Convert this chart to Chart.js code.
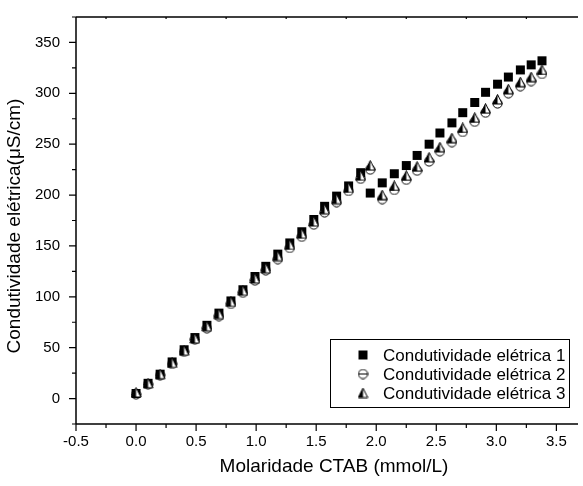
<!DOCTYPE html>
<html>
<head>
<meta charset="utf-8">
<script src="https://cdn.jsdelivr.net/npm/chart.js@4.4.0/dist/chart.umd.min.js"></script>
<style>
  html, body { margin: 0; padding: 0; background: #fff; }
  #chart { display: block; }
</style>
</head>
<body>
<canvas id="chart" width="583" height="486"></canvas>
<script>
// CTAB molarity (mmol/L)
var molarity = [0.00, 0.10, 0.20, 0.30, 0.40, 0.49, 0.59, 0.69, 0.79, 0.89,
                0.99, 1.08, 1.18, 1.28, 1.38, 1.48, 1.57, 1.67, 1.77, 1.87,
                1.95, 2.05, 2.15, 2.25, 2.34, 2.44, 2.53, 2.63, 2.72, 2.82,
                2.91, 3.01, 3.10, 3.20, 3.29, 3.38];

var cond1 = [5, 15, 24, 36, 48, 60, 72, 84, 96, 107,
             120, 130, 142, 153, 164, 176, 189, 199, 209, 222,
             202, 212, 221, 229, 239, 250, 261, 271, 281, 291,
             301, 309, 316, 323, 328, 332];
var cond2 = [4, 14, 23, 34, 46, 58, 69, 81, 93, 104,
             116, 126, 137, 148, 159, 171, 183, 193, 204, 216,
             225, 196, 205, 215, 224, 233, 243, 252, 262, 272,
             281, 290, 300, 307, 312, 319];
var cond3 = [6, 15, 24, 35, 47, 59, 71, 83, 95, 106,
             118, 128, 140, 151, 162, 174, 186, 196, 207, 219,
             229, 200, 209, 219, 228, 237, 247, 256, 266, 276,
             285, 294, 304, 311, 316, 323];

var seriesNames = ["Condutividade elétrica 1", "Condutividade elétrica 2", "Condutividade elétrica 3"];

var xTicks = [-0.5, 0.0, 0.5, 1.0, 1.5, 2.0, 2.5, 3.0, 3.5];
var xTickLabels = ["-0.5", "0.0", "0.5", "1.0", "1.5", "2.0", "2.5", "3.0", "3.5"];
var yTicks = [0, 50, 100, 150, 200, 250, 300, 350];
var yTickLabels = ["0", "50", "100", "150", "200", "250", "300", "350"];

var xTitle = "Molaridade CTAB (mmol/L)";
var yTitle = "Condutividade elétrica(μS/cm)";

var FONT = "'Liberation Sans', Arial, sans-serif";

// origin-like marker symbols
function makeSymbol(kind) {
    var c = document.createElement("canvas");
    c.width = 11; c.height = 11;
    var g = c.getContext("2d");
    g.lineWidth = 1;
    g.strokeStyle = "#000";
    if (kind == "square") {
        g.fillStyle = "#000";
        g.fillRect(1, 1, 9, 9);
    } else if (kind == "circle") {
        g.fillStyle = "#fff";
        g.beginPath();
        g.arc(5.5, 5.5, 4.6, 0, Math.PI * 2);
        g.fill();
        g.stroke();
        g.beginPath();
        g.moveTo(1, 5.5); g.lineTo(10, 5.5);
        g.stroke();
    } else {
        g.fillStyle = "#fff";
        g.beginPath();
        g.moveTo(5.5, 0.5); g.lineTo(10.2, 10); g.lineTo(0.8, 10); g.closePath();
        g.fill();
        g.fillStyle = "#000";
        g.beginPath();
        g.moveTo(5.5, 0.5); g.lineTo(5.5, 10); g.lineTo(0.8, 10); g.closePath();
        g.fill();
        g.beginPath();
        g.moveTo(5.5, 0.5); g.lineTo(10.2, 10); g.lineTo(0.8, 10); g.closePath();
        g.stroke();
    }
    return c;
}

var symbols = [makeSymbol("square"), makeSymbol("circle"), makeSymbol("triangle")];

function pts(ys) {
    return molarity.map(function(x, i) { return {x: x, y: ys[i]}; });
}

// frame, major/minor ticks, x labels and y title, drawn like the origin plot
var framePlugin = {
    id: "frame",
    afterDraw: function(chart) {
        var ctx = chart.ctx, a = chart.chartArea;
        var xs = chart.scales.x, ys = chart.scales.y;
        ctx.save();
        ctx.strokeStyle = "#000";
        ctx.lineWidth = 1.5;
        ctx.beginPath();
        ctx.moveTo(a.left, a.top); ctx.lineTo(a.right, a.top);
        ctx.moveTo(a.left, a.top); ctx.lineTo(a.left, a.bottom);
        ctx.moveTo(a.left, a.bottom); ctx.lineTo(a.right, a.bottom);
        ctx.stroke();
        ctx.lineWidth = 1.2;
        ctx.beginPath();
        var step = xTicks[1] - xTicks[0];
        xTicks.forEach(function(v) {
            var p = xs.getPixelForValue(v);
            ctx.moveTo(p, a.bottom); ctx.lineTo(p, a.bottom + 7);
            var m = xs.getPixelForValue(v + step / 2);
            if (m < a.right) {
                ctx.moveTo(m, a.bottom); ctx.lineTo(m, a.bottom + 4);
            }
            ctx.moveTo(m, a.top); ctx.lineTo(m, a.top + 2);
        });
        var ystep = yTicks[1] - yTicks[0];
        yTicks.forEach(function(v) {
            var p = ys.getPixelForValue(v);
            ctx.moveTo(a.left, p); ctx.lineTo(a.left - 7, p);
            var m = ys.getPixelForValue(v + ystep / 2);
            ctx.moveTo(a.left, m); ctx.lineTo(a.left - 4, m);
        });
        var mb = ys.getPixelForValue(yTicks[0] - ystep / 2);
        ctx.moveTo(a.left, mb); ctx.lineTo(a.left - 4, mb);
        ctx.stroke();

        ctx.fillStyle = "#000";
        ctx.font = "15px " + FONT;
        ctx.textAlign = "center";
        ctx.textBaseline = "middle";
        xTicks.forEach(function(v, i) {
            ctx.fillText(xTickLabels[i], xs.getPixelForValue(v), a.bottom + 18);
        });
        ctx.font = "19px " + FONT;
        ctx.fillText(xTitle, 334, 467);
        ctx.translate(15, 226);
        ctx.rotate(-Math.PI / 2);
        ctx.fillText(yTitle, 0, 0);
        ctx.restore();
    }
};

// boxed legend inside the plot, bottom right
var legendPlugin = {
    id: "boxLegend",
    afterDraw: function(chart) {
        var ctx = chart.ctx;
        ctx.save();
        ctx.fillStyle = "#fff";
        ctx.fillRect(330, 339, 239, 68);
        ctx.strokeStyle = "#000";
        ctx.lineWidth = 1;
        ctx.strokeRect(330.5, 339.5, 239, 68);
        ctx.font = "17px " + FONT;
        ctx.textBaseline = "middle";
        ctx.fillStyle = "#000";
        chart.data.datasets.forEach(function(ds, i) {
            var cy = 355 + i * 19;
            ctx.drawImage(ds.pointStyle, 363 - 5.5, cy - 5.5);
            ctx.fillText(ds.label, 383, cy + 1);
        });
        ctx.restore();
    }
};

var ctx = document.getElementById("chart").getContext("2d");
var chart = new Chart(ctx, {
    type: "scatter",
    data: {
        datasets: [
            {label: seriesNames[0], data: pts(cond1), pointStyle: symbols[0], order: 1},
            {label: seriesNames[1], data: pts(cond2), pointStyle: symbols[1], order: 2},
            {label: seriesNames[2], data: pts(cond3), pointStyle: symbols[2], order: 0}
        ]
    },
    options: {
        responsive: false,
        animation: false,
        layout: {padding: {top: 5, right: 0, left: 0, bottom: 0}},
        plugins: {
            legend: {display: false},
            tooltip: {enabled: false}
        },
        scales: {
            x: {
                type: "linear",
                min: -0.5,
                max: 3.68,
                grid: {display: false},
                border: {display: false},
                afterBuildTicks: function(s) {
                    s.ticks = xTicks.map(function(v) { return {value: v}; });
                },
                afterFit: function(s) { s.height = 62; },
                ticks: {display: false}
            },
            y: {
                min: -25,
                max: 375,
                grid: {display: false},
                border: {display: false},
                afterBuildTicks: function(s) {
                    s.ticks = yTicks.map(function(v) { return {value: v}; });
                },
                afterFit: function(s) { s.width = 76; },
                ticks: {
                    color: "#000",
                    font: {family: FONT, size: 15},
                    padding: 8,
                    callback: function(v, i) { return yTickLabels[i]; }
                }
            }
        }
    },
    plugins: [framePlugin, legendPlugin]
});
</script>
</body>
</html>
